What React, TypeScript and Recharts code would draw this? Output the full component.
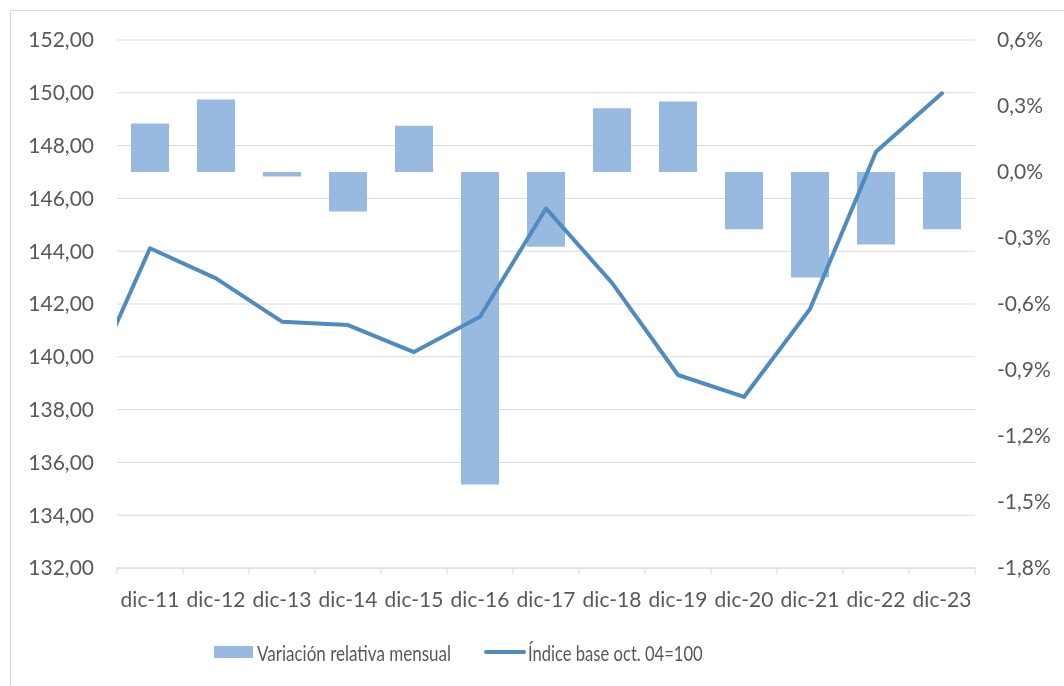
import { Bar, CartesianGrid, ComposedChart, Legend, Line, XAxis, YAxis } from "recharts";

// x = 0 is the previous December, only used so the line enters from the left edge
const positions = [0, 1, 2, 3, 4, 5, 6, 7, 8, 9, 10, 11, 12, 13];
const categories = ["dic-10", "dic-11", "dic-12", "dic-13", "dic-14", "dic-15", "dic-16", "dic-17", "dic-18", "dic-19", "dic-20", "dic-21", "dic-22", "dic-23"];
const variacion = [null, 0.22, 0.33, -0.02, -0.18, 0.21, -1.42, -0.34, 0.29, 0.32, -0.26, -0.48, -0.33, -0.26];
const indice = [138.5, 144.11, 142.97, 141.33, 141.2, 140.18, 141.52, 145.62, 142.8, 139.31, 138.48, 141.81, 147.77, 149.98];
const leftTicks = [132, 134, 136, 138, 140, 142, 144, 146, 148, 150, 152];
const rightTicks = [-1.8, -1.5, -1.2, -0.9, -0.6, -0.3, 0, 0.3, 0.6];
const labelTicks = [1, 2, 3, 4, 5, 6, 7, 8, 9, 10, 11, 12, 13];

const data = positions.map((x, i) => ({
  x,
  label: categories[i],
  variacion: variacion[i],
  indice: indice[i],
}));

const W = 1048;
const H = 670;
const LEFT_W = 109;
const RIGHT_W = 81;
const STEP = (W - LEFT_W - RIGHT_W) / 13;
const FONT = "Lato, 'Open Sans', sans-serif";
const TEXT = "#595959";
const GRID = "#D9D9D9";
const BAR = "#99BAE0";
const LINE = "#4E8BC0";

function CategoryTick(props: any) {
  const { x, y, payload, index } = props;
  const last = index === labelTicks.length - 1;
  return (
    <g>
      <line x1={x - STEP / 2} x2={x - STEP / 2} y1={y} y2={y + 6} stroke={GRID} />
      {last && <line x1={x + STEP / 2} x2={x + STEP / 2} y1={y} y2={y + 6} stroke={GRID} />}
      <text x={x} y={y + 32} dy="0.35em" textAnchor="middle" fill={TEXT} fontSize={21} fontFamily={FONT}>
        {categories[payload.value]}
      </text>
    </g>
  );
}

// Lato is wider than the original Calibri, so squeeze the legend text a bit
function Narrow({ width, scale, children }: { width: number; scale: number; children: string }) {
  return (
    <span style={{ display: "inline-block", width, whiteSpace: "nowrap" }}>
      <span style={{ display: "inline-block", transform: `scaleX(${scale})`, transformOrigin: "left center" }}>
        {children}
      </span>
    </span>
  );
}

function LegendBox() {
  return (
    <div style={{ display: "flex", alignItems: "center", marginLeft: 206, fontFamily: FONT, fontSize: 21, color: TEXT, height: 40 }}>
      <span style={{ display: "inline-block", width: 39, height: 12, background: BAR, marginRight: 4 }} />
      <Narrow width={192} scale={0.81}>Variación relativa mensual</Narrow>
      <span style={{ display: "inline-block", width: 42, height: 4, borderRadius: 2, background: LINE, marginLeft: 35, marginRight: 2 }} />
      <Narrow width={174} scale={0.79}>Índice base oct. 04=100</Narrow>
    </div>
  );
}

export default function App() {
  return (
    <div style={{ position: "relative" }}>
      <div
        style={{
          position: "fixed",
          left: 10,
          top: 10,
          width: 1100,
          height: 720,
          border: `1px solid ${GRID}`,
          pointerEvents: "none",
        }}
      />
      <ComposedChart width={W} height={H} data={data} margin={{ top: 32, right: 0, left: 0, bottom: 6 }}>
        <CartesianGrid vertical={false} stroke={GRID} yAxisId="left" />
        <XAxis
          dataKey="x"
          type="number"
          domain={[0.5, 13.5]}
          allowDataOverflow
          ticks={labelTicks}
          interval={0}
          height={64}
          stroke={GRID}
          tickLine={false}
          tickSize={0}
          tickMargin={0}
          tick={<CategoryTick />}
        />
        <YAxis
          yAxisId="left"
          domain={[132, 152]}
          ticks={leftTicks}
          interval={0}
          width={LEFT_W}
          axisLine={false}
          tickLine={false}
          tickSize={0}
          tickMargin={23}
          tick={{ fill: TEXT, fontSize: 21, fontFamily: FONT }}
          tickFormatter={(v: number) => v.toFixed(2).replace(".", ",")}
        />
        <YAxis
          yAxisId="right"
          orientation="right"
          domain={[-1.8, 0.6]}
          ticks={rightTicks}
          interval={0}
          width={RIGHT_W}
          axisLine={false}
          tickLine={false}
          tickSize={0}
          tickMargin={22}
          tick={{ fill: TEXT, fontSize: 21, fontFamily: FONT, textAnchor: "start" }}
          tickFormatter={(v: number) => v.toFixed(1).replace(".", ",") + "%"}
        />
        <Bar
          yAxisId="right"
          dataKey="variacion"
          name="Variación relativa mensual"
          fill={BAR}
          barSize={38}
          isAnimationActive={false}
        />
        <Line
          yAxisId="left"
          dataKey="indice"
          name="Índice base oct. 04=100"
          stroke={LINE}
          strokeWidth={4}
          strokeLinecap="round"
          strokeLinejoin="round"
          dot={false}
          activeDot={false}
          isAnimationActive={false}
        />
        <Legend verticalAlign="bottom" height={40} content={() => <LegendBox />} />
      </ComposedChart>
    </div>
  );
}
